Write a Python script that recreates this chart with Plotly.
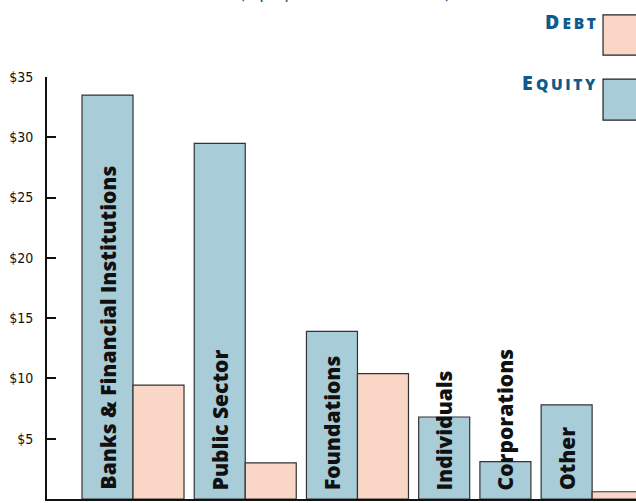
import plotly.graph_objects as go

categories = ["Banks & Financial Institutions", "Public Sector", "Foundations",
              "Individuals", "Corporations", "Other"]
equity = [33.5, 29.5, 13.9, 6.8, 3.1, 7.8]
debt = [9.45, 3.0, 10.4, None, None, 0.6]
tick_vals = [0, 5, 10, 15, 20, 25, 30, 35]
tick_text = ["0", "$5", "$10", "$15", "$20", "$25", "$30", "$35"]

EQ_COLOR = "#a8cdd8"
DEBT_COLOR = "#f9d6c6"
BLUE = "#0d5a8e"
TS = "\u2009"  # thin space for letter spacing

# positions: bars adjacent within a group, small gap between groups,
# absent debt bars take no room
GAP = 0.2
eq_x, debt_x, debt_y = [], [], []
p = 0.0
for e, d in zip(equity, debt):
    eq_x.append(p)
    if d is not None:
        debt_x.append(p + 1)
        debt_y.append(d)
        p += 2 + GAP
    else:
        p += 1 + GAP

fig = go.Figure()
fig.add_bar(x=eq_x, y=equity, width=1, marker=dict(color=EQ_COLOR,
            line=dict(color="#333333", width=1.2)), name="Equity")
fig.add_bar(x=debt_x, y=debt_y, width=1, marker=dict(color=DEBT_COLOR,
            line=dict(color="#333333", width=1.2)), name="Debt")

for x, c in zip(eq_x, categories):
    fig.add_annotation(x=x, y=0, xref="x", yref="y", text=c, textangle=-90,
                       showarrow=False, xanchor="center", yanchor="bottom",
                       yshift=7,
                       font=dict(family="Open Sans, Lato, sans-serif", size=21,
                                 color="#111111", weight=800))

# legend (drawn manually)
fig.add_shape(type="rect", xref="paper", yref="paper", x0=0.944, x1=1.1,
              y0=1.052, y1=1.147, fillcolor=DEBT_COLOR,
              line=dict(color="#222222", width=1.2))
fig.add_shape(type="rect", xref="paper", yref="paper", x0=0.944, x1=1.1,
              y0=0.898, y1=0.995, fillcolor=EQ_COLOR,
              line=dict(color="#222222", width=1.2))
fig.add_annotation(xref="paper", yref="paper", x=0.935, y=1.168,
                   xanchor="right", yanchor="top", showarrow=False,
                   text="D" + TS + "<span style='font-size:15.5px'>" + TS.join("EBT") + "</span>",
                   font=dict(family="Open Sans, sans-serif", size=19.5, color=BLUE,
                             weight=800))
fig.add_annotation(xref="paper", yref="paper", x=0.935, y=1.024,
                   xanchor="right", yanchor="top", showarrow=False,
                   text="E" + TS + "<span style='font-size:15.5px'>" + TS.join("QUITY") + "</span>",
                   font=dict(family="Open Sans, sans-serif", size=19.5, color=BLUE,
                             weight=800))
# title (cropped at top in the reference)
fig.add_annotation(xref="paper", yref="paper", x=0.506, y=1.17,
                   xanchor="center", yanchor="bottom", showarrow=False,
                   text="(Equity and Debt in Millions)",
                   font=dict(family="Lato, sans-serif", size=17, color=BLUE))

fig.update_layout(
    width=636, height=503,
    margin=dict(l=47, r=0, t=77, b=4),
    paper_bgcolor="white", plot_bgcolor="white",
    showlegend=False, barmode="overlay",
    xaxis=dict(range=[-1.186, 10.36], showticklabels=False, ticks="",
               showgrid=False, zeroline=False, showline=True,
               linecolor="#111111", linewidth=2, fixedrange=True),
    yaxis=dict(range=[0, 35], tickvals=tick_vals, ticktext=tick_text,
               ticks="inside", ticklen=9, tickwidth=2, tickcolor="#111111",
               showgrid=False, zeroline=False, showline=True,
               linecolor="#111111", linewidth=2, ticklabelstandoff=9,
               tickfont=dict(family="Liberation Sans Narrow, DejaVu Sans Condensed, sans-serif",
                             size=14, color="#111111")),
)

fig.write_html("out.html", config={"displayModeBar": False},
               post_script="document.body.style.margin='0';")
